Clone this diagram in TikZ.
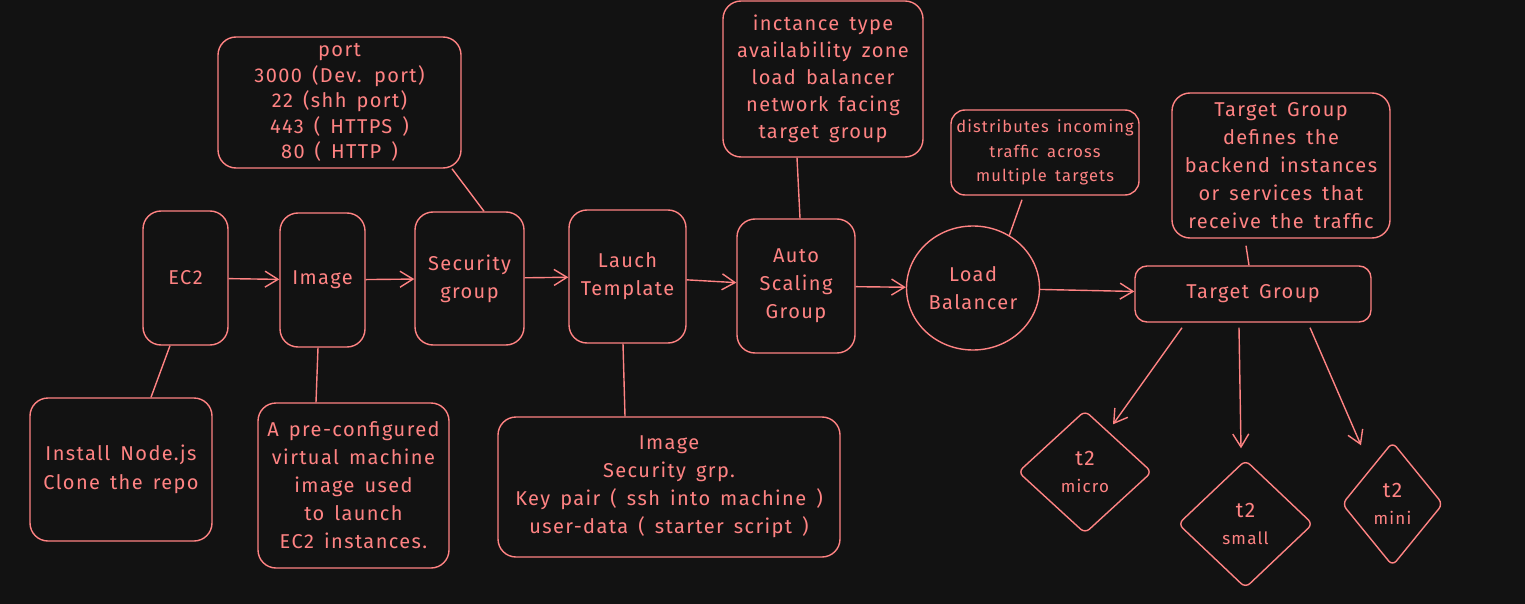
\documentclass[tikz,border=0pt]{standalone}
\usepackage{fontspec}
\setmainfont{Fira Sans}[LetterSpace=7,WordSpace=1.5]
\usetikzlibrary{arrows.meta,shapes.geometric}
\definecolor{bg}{HTML}{121212}
\definecolor{sal}{HTML}{FF8383}
\begin{document}
\begin{tikzpicture}[x=1pt,y=-1pt,
  ln/.style={draw=sal,line width=1.4pt},
  box/.style={ln,rounded corners=18pt,align=center,inner sep=0pt,text=sal,font=\fontsize{20}{28}\selectfont},
  dia/.style={ln,diamond,rounded corners=6pt,align=center,inner sep=0pt,text=sal,font=\fontsize{21}{27}\selectfont},
  arr/.style={ln,-{Straight Barb[length=13pt,width=16pt]}},
  lk/.style={ln}]
\fill[bg] (0,0) rectangle (1525,604);
\useasboundingbox (0,0) rectangle (1525,604);
% main flow
\node[box,minimum width=85,minimum height=134] (ec2) at (185.5,278) {EC2};
\node[box,minimum width=85,minimum height=134] (img) at (322.5,280) {Image};
\node[box,minimum width=109,minimum height=133] (sec) at (469.5,278.5) {Security\\group};
\node[box,minimum width=117,minimum height=133] (lt) at (627.5,276.5) {Lauch\\Template};
\node[box,minimum width=118,minimum height=134] (asg) at (796,286) {Auto\\Scaling\\Group};
\node[ln,ellipse,minimum width=133,minimum height=124,inner sep=0pt,align=center,text=sal,font=\fontsize{20}{28}\selectfont] (lb) at (973,288) {Load\\Balancer};
\node[box,rounded corners=12pt,minimum width=236,minimum height=56] (tg) at (1253,294) {Target Group};
% callouts
\node[box,minimum width=243,minimum height=131,font=\fontsize{20}{25.5}\selectfont] (port) at (339.5,102.5) {port\\3000 (Dev. port)\\22 (shh port)\\443 ( HTTPS )\\80 ( HTTP )};
\node[box,minimum width=200,minimum height=156,font=\fontsize{20}{27}\selectfont] (inst) at (823,79) {inctance type\\availability zone\\load balancer\\network facing\\target group};
\node[box,rounded corners=14pt,minimum width=188,minimum height=85,font=\fontsize{16.5}{24.5}\selectfont] (dist) at (1045,152.5) {distributes incoming\\traffic across\\multiple targets};
\node[box,minimum width=218,minimum height=145] (tgd) at (1281,165.5) {Target Group\\defines the\\backend instances\\or services that\\receive the traffic};
\node[box,minimum width=182,minimum height=143,font=\fontsize{20}{29}\selectfont] (inode) at (121,469.5) {Install Node.js\\Clone the repo};
\node[box,minimum width=191,minimum height=165] (ami) at (353.5,485.5) {A pre-configured\\virtual machine\\image used\\to launch\\EC2 instances.};
\node[box,minimum width=342,minimum height=140] (ltd) at (669,487) {Image\\Security grp.\\Key pair ( ssh into machine )\\user-data ( starter script )};
% instance types
\node[dia,minimum width=134,minimum height=123] (mi) at (1085,472) {t2\\{\fontsize{17}{20}\selectfont micro}};
\node[dia,minimum width=135,minimum height=128] (sm) at (1245.5,524) {t2\\{\fontsize{17}{20}\selectfont small}};
\node[dia,minimum width=101,minimum height=124] (mn) at (1392.5,504) {t2\\{\fontsize{17}{20}\selectfont mini}};
% arrows
\draw[arr] (ec2) -- (img);
\draw[arr] (img) -- (sec);
\draw[arr] (sec) -- (lt);
\draw[arr] (lt) -- (asg);
\draw[arr] (asg) -- (lb);
\draw[arr] (lb) -- (tg);
\draw[arr] ([xshift=-71pt,yshift=-5pt]tg.south) -- ([xshift=28pt,yshift=-14.5pt]mi.north);
\draw[arr] ([xshift=-14pt,yshift=-5pt]tg.south) -- ([xshift=-4.5pt,yshift=11pt]sm.north);
\draw[arr] ([xshift=57pt,yshift=-5pt]tg.south) -- ([xshift=-31.5pt,yshift=-4pt]mn.north);
% callout links
\draw[lk] ([xshift=112.5pt]port.south) -- ([xshift=14.5pt]sec.north);
\draw[lk] ([xshift=-26pt]inst.south) -- ([xshift=4pt]asg.north);
\draw[lk] ([xshift=-23pt,yshift=-4pt]dist.south) -- ([xshift=36pt,yshift=-11pt]lb.north);
\draw[lk] ([xshift=-35pt,yshift=-7pt]tgd.south) -- ([xshift=-4pt]tg.north);
\draw[lk] ([xshift=-15.5pt]ec2.south) -- ([xshift=30pt]inode.north);
\draw[lk] ([xshift=-4.5pt]img.south) -- ([xshift=-37.5pt]ami.north);
\draw[lk] ([xshift=-4.5pt]lt.south) -- ([xshift=-44pt]ltd.north);
\end{tikzpicture}
\end{document}
